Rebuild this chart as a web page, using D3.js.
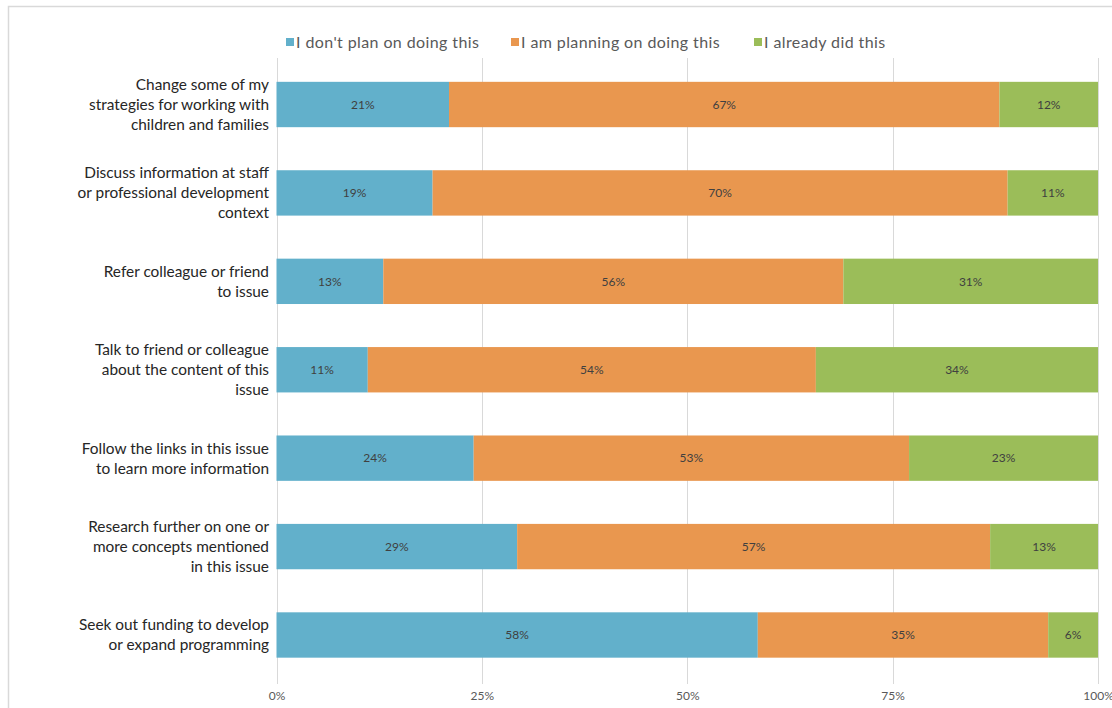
<!DOCTYPE html>
<html>
<head>
<meta charset="utf-8">
<script src="https://cdn.jsdelivr.net/npm/d3@7"></script>
<style>
  html, body { margin: 0; padding: 0; background: #fff; }
  svg { display: block; font-family: Lato, "Open Sans", sans-serif; }
</style>
</head>
<body>
<svg id="chart" width="1112" height="708"></svg>
<script>
// ---- data ----
const categories = [
  "Change some of my|strategies for working with|children and families",
  "Discuss information at staff|or professional development|context",
  "Refer colleague or friend|to issue",
  "Talk to friend or colleague|about the content of this|issue",
  "Follow the links in this issue|to learn more information",
  "Research further on one or|more concepts mentioned|in this issue",
  "Seek out funding to develop|or expand programming"
];
const seriesNames = ["I don't plan on doing this", "I am planning on doing this", "I already did this"];
const dontPlan  = [21, 19, 13, 11, 24, 29, 58];
const planning  = [67, 70, 56, 54, 53, 57, 35];
const alreadyDid = [12, 11, 31, 34, 23, 13, 6];
const seriesColors = ["#62B0CB", "#E9974F", "#9BBD59"];
const xTicks = [0, 0.25, 0.5, 0.75, 1];
const xTickLabels = ["0%", "25%", "50%", "75%", "100%"];

const keys = ["a", "b", "c"];
const table = categories.map((c, i) => ({ cat: c, a: dontPlan[i], b: planning[i], c: alreadyDid[i] }));
const stacked = d3.stack().keys(keys).offset(d3.stackOffsetExpand)(table);

const svg = d3.select("#chart");

// outer frame
svg.append("rect")
  .attr("x", 8.5).attr("y", 6.5).attr("width", 1130).attr("height", 730)
  .attr("fill", "none").attr("stroke", "#d9d9d9").attr("stroke-width", 1.5);

const x = d3.scaleLinear().domain([0, 1]).range([276.5, 1098]);
const y = d3.scaleBand().domain(categories).range([60.3, 679.2])
  .paddingInner(0.487).paddingOuter(0.2435);

// gridlines
svg.append("g").selectAll("line").data(xTicks).join("line")
  .attr("x1", d => Math.round(x(d)) + 0.5).attr("x2", d => Math.round(x(d)) + 0.5)
  .attr("y1", 58).attr("y2", 684)
  .attr("stroke", "#d9d9d9").attr("stroke-width", 1);

// bars
const layers = svg.append("g").selectAll("g").data(stacked).join("g")
  .attr("fill", (d, i) => seriesColors[i]);
layers.selectAll("rect").data(d => d).join("rect")
  .attr("x", d => x(d[0]))
  .attr("width", d => x(d[1]) - x(d[0]))
  .attr("y", d => y(d.data.cat))
  .attr("height", y.bandwidth());

// data labels
stacked.forEach((layer, si) => {
  svg.append("g").selectAll("text").data(layer).join("text")
    .attr("x", d => (x(d[0]) + x(d[1])) / 2)
    .attr("y", d => y(d.data.cat) + y.bandwidth() / 2)
    .attr("dy", "0.35em")
    .attr("text-anchor", "middle")
    .attr("font-size", 12)
    .attr("fill", "#404040")
    .text(d => d.data[keys[si]] + "%");
});

// category labels
const catG = svg.append("g");
categories.forEach(c => {
  const lines = c.split("|");
  const cy = y(c) + y.bandwidth() / 2;
  const lh = 20;
  const t = catG.append("text")
    .attr("text-anchor", "end")
    .attr("font-size", 15.4)
    .attr("fill", "#262626");
  lines.forEach((ln, j) => {
    t.append("tspan")
      .attr("x", 269)
      .attr("y", cy + (j - (lines.length - 1) / 2) * lh)
      .attr("dy", "0.35em")
      .text(ln);
  });
});

// x axis labels
const xAxis = d3.axisBottom(x).tickValues(xTicks)
  .tickFormat((d, i) => xTickLabels[i]).tickSize(0).tickPadding(0);
const ax = svg.append("g").attr("transform", "translate(0,691)").call(xAxis);
ax.select(".domain").remove();
ax.selectAll("text").attr("font-size", 12).attr("fill", "#595959")
  .attr("font-family", "Lato, 'Open Sans', sans-serif");

// legend
const legendX = [286, 511, 754];
const lg = svg.append("g");
seriesNames.forEach((n, i) => {
  lg.append("rect").attr("x", legendX[i]).attr("y", 38).attr("width", 8).attr("height", 8)
    .attr("fill", seriesColors[i]);
  lg.append("text").attr("x", legendX[i] + 10).attr("y", 42).attr("dy", "0.35em")
    .attr("font-size", 16).attr("letter-spacing", 0.4).attr("fill", "#595959").text(n);
});
</script>
</body>
</html>
